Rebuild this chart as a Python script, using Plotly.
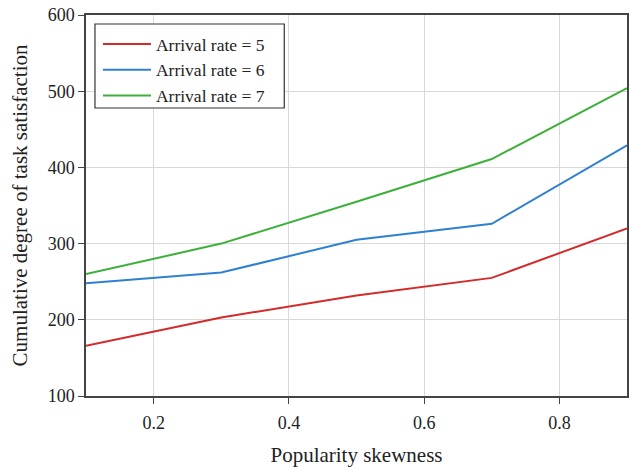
import plotly.graph_objects as go

skew = [0.1, 0.3, 0.5, 0.7, 0.9]
rate5 = [166, 203, 232, 255, 320]
rate6 = [248, 262, 305, 326, 429]
rate7 = [260, 300, 355, 411, 504]
names = ["Arrival rate = 5", "Arrival rate = 6", "Arrival rate = 7"]
colors = ["#d32a2a", "#2f80d1", "#3cb03a"]

fig = go.Figure()
for n, ys, c in zip(names, [rate5, rate6, rate7], colors):
    fig.add_trace(go.Scatter(x=skew, y=ys, mode="lines", name=n,
                             line=dict(color=c, width=2)))

font = "Liberation Serif, Times New Roman, serif"
L, T, W, H = 86, 15, 543, 381
fig.update_layout(
    width=629, height=467,
    margin=dict(l=L, r=0, t=T, b=467 - T - H),
    paper_bgcolor="white", plot_bgcolor="white",
    font=dict(family=font, color="#222", size=18),
    legend=dict(x=(98 - L) / W, y=1 - (26 - T) / H, xanchor="left", yanchor="top",
                borderwidth=0, bgcolor="rgba(0,0,0,0)",
                font=dict(size=17.5, family=font), tracegroupgap=0,
                itemwidth=48),
    showlegend=True,
    shapes=[dict(type="rect", xref="paper", yref="paper", layer="above",
                 x0=(95 - L) / W, x1=(285 - L) / W,
                 y0=1 - (108 - T) / H, y1=1 - (24 - T) / H,
                 line=dict(color="#333", width=1.2), fillcolor="white")],
)
fig.update_xaxes(range=[0.1, 0.9], tickvals=[0.2, 0.4, 0.6, 0.8],
                 ticktext=["0.2", "0.4", "0.6", "0.8"],
                 showgrid=True, gridcolor="#d9d9d9", gridwidth=1,
                 showline=True, linecolor="#444", linewidth=1.5, mirror=True,
                 ticks="outside", ticklen=6, tickcolor="#444",
                 tickfont=dict(size=18), ticklabelstandoff=4,
                 title=dict(text="Popularity skewness", font=dict(size=21), standoff=16),
                 zeroline=False)
fig.update_yaxes(range=[100, 600], tickvals=[100, 200, 300, 400, 500, 600],
                 showgrid=True, gridcolor="#d9d9d9", gridwidth=1,
                 showline=True, linecolor="#444", linewidth=1.5, mirror=True,
                 ticks="outside", ticklen=6, tickcolor="#444",
                 tickfont=dict(size=18),
                 title=dict(text="Cumulative degree of task satisfaction", font=dict(size=21), standoff=14),
                 zeroline=False)

fig.write_html("out.html")
